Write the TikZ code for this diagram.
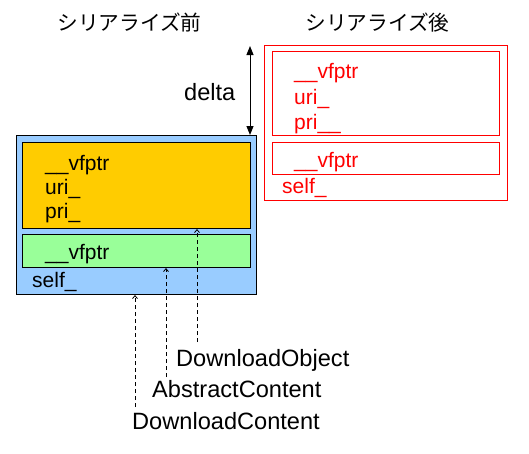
\documentclass[tikz,border=0pt]{standalone}
\usepackage{fontspec}
\setmainfont{Liberation Sans}
\newfontfamily\jpfont{Noto Sans CJK JP}
\usetikzlibrary{arrows.meta}
\definecolor{boxblue}{HTML}{99CCFF}
\definecolor{boxorange}{HTML}{FFCC00}
\definecolor{boxgreen}{HTML}{99FF99}
\definecolor{redline}{HTML}{FF0000}
\begin{document}
\begin{tikzpicture}[x=1pt,y=-1pt,
  box/.style={draw=black,line width=1pt,inner sep=0pt,anchor=north west},
  rbox/.style={draw=redline,line width=1pt,inner sep=0pt,anchor=north west},
  txt/.style={anchor=base west,inner sep=0pt,font=\fontsize{21}{25}\selectfont},
  rtxt/.style={txt,text=redline},
  lbl/.style={anchor=base west,inner sep=0pt,font=\fontsize{23.6}{27}\selectfont},
  ttl/.style={inner sep=0pt,font=\jpfont\fontsize{20.7}{25}\selectfont},
  dasharrow/.style={draw=black,line width=0.8pt,dash pattern=on 4pt off 3pt,-{Straight Barb[length=3pt,width=5pt]}},
  deltaarrow/.style={draw=black,line width=1pt,{Triangle[length=9pt,width=7pt]}-{Triangle[length=9pt,width=7pt]}}
]
\useasboundingbox (0,0) rectangle (529,453);
% titles
\node[ttl] (tbefore) at (129.5,22.5) {シリアライズ前};
\node[ttl] (tafter) at (377.5,22.5) {シリアライズ後};
% before boxes
\node[box,fill=boxblue,minimum width=240pt,minimum height=159pt] (blue) at (16,135) {};
\node[box,fill=boxorange,minimum width=228pt,minimum height=86pt] (orange) at (22,142) {};
\node[box,fill=boxgreen,minimum width=228pt,minimum height=33pt] (green) at (22,234) {};
\node[txt] (bv1) at (45,170) {\_\_vfptr};
\node[txt] (buri) at (45,194) {uri\_};
\node[txt] (bpri) at (45,218) {pri\_};
\node[txt] (bv2) at (45,259) {\_\_vfptr};
\node[txt] (bself) at (32,287) {self\_};
% after boxes
\node[rbox,minimum width=243pt,minimum height=155pt] (router) at (264,45) {};
\node[rbox,minimum width=227pt,minimum height=84pt] (rin1) at (272,51) {};
\node[rbox,minimum width=227pt,minimum height=32pt] (rin2) at (272,142) {};
\node[rtxt] (rv1) at (294,78) {\_\_vfptr};
\node[rtxt] (ruri) at (294,104) {uri\_};
\node[rtxt] (rpri) at (294,129) {pri\_\_};
\node[rtxt] (rv2) at (294,167) {\_\_vfptr};
\node[rtxt] (rself) at (282,193) {self\_};
% delta
\coordinate (deltatop) at (250,46);
\draw[deltaarrow] (deltatop) -- (deltatop |- blue.north);
\node[lbl] (delta) at (184,100) {delta};
% labels
\node[lbl] (ldo) at (176,366) {DownloadObject};
\node[lbl] (lac) at (152,397) {AbstractContent};
\node[lbl] (ldc) at (132,429) {DownloadContent};
\coordinate (sdo) at (197,342);
\coordinate (sac) at (166,377);
\coordinate (sdc) at (135,407);
\draw[dasharrow] (sdo) -- (sdo |- orange.south);
\draw[dasharrow] (sac) -- (sac |- green.south);
\draw[dasharrow] (sdc) -- (sdc |- blue.south);
\end{tikzpicture}
\end{document}
